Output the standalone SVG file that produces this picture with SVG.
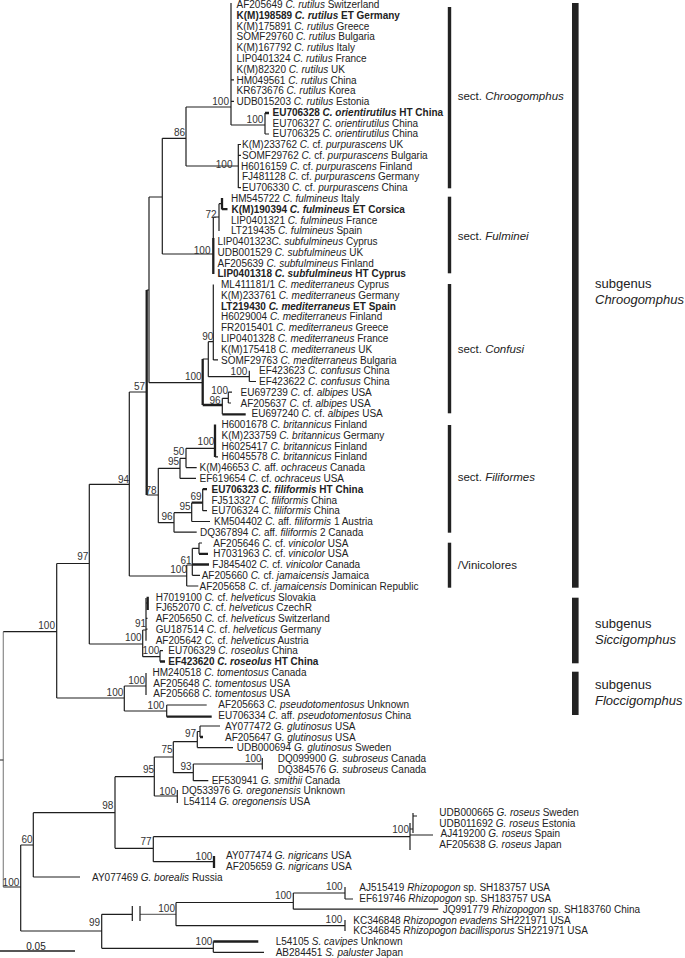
<svg xmlns="http://www.w3.org/2000/svg" width="685" height="958" viewBox="0 0 685 958">
<style>
.t{font-family:"Liberation Sans",Arial,sans-serif;font-size:10px;fill:#222}
.b{font-weight:bold}
.i{font-style:italic}
.bs{font-family:"Liberation Sans",Arial,sans-serif;font-size:10px;fill:#333;text-anchor:end}
.br{stroke:#1e1e1e;stroke-width:1.2;fill:none}
.th{stroke:#1e1e1e;stroke-width:2.3;fill:none}
.gr{stroke:#8a8a8a;stroke-width:1.2;fill:none}
.thin{stroke:#1e1e1e;stroke-width:0.8;fill:none}
.bar{fill:#222}
.sl{font-family:"Liberation Sans",Arial,sans-serif;font-size:11.5px;fill:#222}
.gl{font-family:"Liberation Sans",Arial,sans-serif;font-size:13px;fill:#222}
</style>
<rect width="685" height="958" fill="#fff"/>
<g id="connectors">
<path class="gr" d="M3.3,631.7V887"/>
<path class="br" d="M0,760H3.3
M3.3,631.7H56.7 M56.7,563.5V698 M56.7,563.5H89.3 M56.7,698H124.3
M89.3,484.3V644 M89.3,484.3H129.3 M89.3,644H142.7
M129.3,392V576 M129.3,392H146.7 M129.3,576H186.7
M146.7,290H149 M146.7,495H158.3
M149,197V382.7 M149,197H162.3 M149,382.7H202.7
M162.3,138.3V254 M162.3,138.3H186 M162.3,254H213.3
M186,107V166 M186,107H231 M186,166H238.3
M231,3V125 M231,79.9H234 M231,101.4H234
M231,125H265 M265,113V134 M265,134H269
M238.3,144V188 M238.3,144.5H241 M238.3,155.3H241 M238.3,187.6H241
M213.3,217V238 M213.3,217H219 M219,203.7V231 M219,203.7H222
M202.7,359H208.3 M208.3,341.7V376.7 M208.3,341.7H213.3 M213.3,284.5V360 M213.3,359.9H218
M208.3,376.7H249.3 M249.3,370.7V381.5 M249.3,381.5H256
M222.3,398.3V414.3 M222.3,398.3H228.3 M228.3,392.2V403 M228.3,392.2H232 M228.3,403H231
M158.3,468.3V522.7 M158.3,468.3H180 M180,458.3V478.4 M180,458.3H186
M186,448.3V467.6 M186,448.3H215 M215,456.8H218
M186,467.6H196.7 M180,478.4H196
M158.3,522.7H174 M174,512.7V532.2 M174,512.7H191.7 M191.7,502.7V521.5
M202.7,489V510.7 M202.7,510.7H207 M191.7,521.5H210 M174,532.2H196.7
M186.7,565V586 M186.7,565H192.3 M192.3,548.4V575.3 M192.3,548.4H199 M199,543V553.8 M199,543H202
M192.3,575.3H200 M186.7,586H198.3
M142.7,630V656.7 M142.7,630H146 M146,598V640.7 M146,603H147.7 M146,618.4H147.5 M146,629.2H147.5
M142.7,656.7H160 M160,650.7V661.5 M160,650.7H163
M124.3,686V711 M124.3,686H146 M146,673V695 M124.3,711H166.7 M166.7,705V716.7 M166.7,705H206.7
M3.3,887H20.7 M20.7,845V931 M20.7,845H33.3 M33.3,812.7V877 M33.3,812.7H115 M33.3,877H80
M115,776.7V848.3 M115,776.7H154.3 M115,848.3H153.3
M154.3,757V796 M154.3,757H173.3 M173.3,741.7V772.7 M173.3,741.7H197.3
M197.3,731.5V747.6 M197.3,731.5H200 M200,726V737 M200,726H220 M197.3,747.6H233
M173.3,772.7H193.3 M193.3,764V780.7 M193.3,764H262.3 M262.3,758V769.5 M193.3,780.7H208.3
M154.3,796H177.3 M177.3,790V803
M153.3,836.7V861.7 M153.3,836.7H410 M410,823V850 M413,813V833 M410,829H413 M413,816H417 M410,835H433
M153.3,861.7H214
M20.7,931H101.7 M101.7,914.3V948.3 M101.7,914.3H132.3 M132.3,906V921 M140,906V921
M176,902.5V925.7 M176,902.5H293.3 M293.3,893V909.2 M293.3,893H345 M345,887V899 M345,899H353
M293.3,909.2H438.3 M176,925.7H345 M345,920V931
M101.7,948.3H213.3 M213.3,941.5V952.3 M213.3,952.3H264"/>
<path class="thin" d="M140,914.3H176"/>
<path class="th" d="M146.7,290V495 M265,113H269 M213.3,238V274 M222,198V209.5 M222,209.1H227.5
M202.7,359V405 M202.7,405H222.3 M222.3,414.3H245.7 M215,424.5V457
M191.7,502.7H202.7 M202.7,489.2H207 M199,553.8H208 M192.3,564.5H209
M147.7,596.8V610 M160,661.5H165 M166.7,716.7H211.7 M200,737H203 M214,856V868 M213.3,941.5H258.3"/>
<path class="br" d="M0,951H75" style="stroke-width:1.6"/>
</g>
<g id="scale"><text class="t" x="36" y="949.6" text-anchor="middle">0.05</text></g>
<g id="support">
<text class="bs" x="229" y="105.3">100</text>
<text class="bs" x="263.3" y="122.9">100</text>
<text class="bs" x="185" y="136.3">86</text>
<text class="bs" x="232.5" y="167.6">100</text>
<text class="bs" x="216.7" y="217.6">72</text>
<text class="bs" x="210.5" y="253.6">100</text>
<text class="bs" x="213.3" y="340.3">90</text>
<text class="bs" x="201.7" y="379.8">100</text>
<text class="bs" x="247.3" y="374.6">100</text>
<text class="bs" x="228" y="393.6">100</text>
<text class="bs" x="220.5" y="404.3">96</text>
<text class="bs" x="145" y="389.6">57</text>
<text class="bs" x="184.3" y="454.6">50</text>
<text class="bs" x="214.3" y="445.3">100</text>
<text class="bs" x="179" y="465.3">95</text>
<text class="bs" x="129" y="482.6">94</text>
<text class="bs" x="156.7" y="493.6">78</text>
<text class="bs" x="201.7" y="500.3">69</text>
<text class="bs" x="190.7" y="510.3">95</text>
<text class="bs" x="172.7" y="520.3">96</text>
<text class="bs" x="191.7" y="563.6">61</text>
<text class="bs" x="187" y="572.9">100</text>
<text class="bs" x="88.3" y="560.3">97</text>
<text class="bs" x="146" y="626.9">91</text>
<text class="bs" x="141.7" y="641.3">100</text>
<text class="bs" x="159.3" y="654.3">100</text>
<text class="bs" x="55" y="629.3">100</text>
<text class="bs" x="145" y="684.3">100</text>
<text class="bs" x="123.3" y="695.9">100</text>
<text class="bs" x="164.3" y="709.3">100</text>
<text class="bs" x="196" y="736.9">97</text>
<text class="bs" x="172.7" y="752.9">75</text>
<text class="bs" x="261.7" y="761.9">100</text>
<text class="bs" x="191.7" y="769.6">93</text>
<text class="bs" x="154" y="772.9">95</text>
<text class="bs" x="176" y="794.6">100</text>
<text class="bs" x="113.3" y="809.3">98</text>
<text class="bs" x="409" y="832.9">100</text>
<text class="bs" x="32.7" y="842.6">60</text>
<text class="bs" x="151.7" y="844.6">77</text>
<text class="bs" x="212.3" y="859.6">100</text>
<text class="bs" x="19.3" y="886.3">100</text>
<text class="bs" x="342.7" y="890.3">100</text>
<text class="bs" x="291.7" y="898.9">100</text>
<text class="bs" x="175" y="911.9">100</text>
<text class="bs" x="342.3" y="922.9">100</text>
<text class="bs" x="100" y="926.3">99</text>
<text class="bs" x="212.3" y="945.3">100</text>
</g>
<g id="leaf-1"><text class="t" x="236.5" y="8.1">AF205649 <tspan class="i">C. rutilus</tspan> Switzerland</text></g>
<g id="leaf-2"><text class="t b" x="236.5" y="18.9">K(M)198589 <tspan class="i">C. rutilus</tspan> ET Germany</text></g>
<g id="leaf-3"><text class="t" x="236.5" y="29.6">K(M)175891 <tspan class="i">C. rutilus</tspan> Greece</text></g>
<g id="leaf-4"><text class="t" x="236.5" y="40.4">SOMF29760 <tspan class="i">C. rutilus</tspan> Bulgaria</text></g>
<g id="leaf-5"><text class="t" x="236.5" y="51.2">K(M)167792 <tspan class="i">C. rutilus</tspan> Italy</text></g>
<g id="leaf-6"><text class="t" x="236.5" y="62">LIP0401324 <tspan class="i">C. rutilus</tspan> France</text></g>
<g id="leaf-7"><text class="t" x="236.5" y="72.7">K(M)82320 <tspan class="i">C. rutilus</tspan> UK</text></g>
<g id="leaf-8"><text class="t" x="236.5" y="83.5">HM049561 <tspan class="i">C. rutilus</tspan> China</text></g>
<g id="leaf-9"><text class="t" x="236.5" y="94.3">KR673676 <tspan class="i">C. rutilus</tspan> Korea</text></g>
<g id="leaf-10"><text class="t" x="236.5" y="105">UDB015203 <tspan class="i">C. rutilus</tspan> Estonia</text></g>
<g id="leaf-11"><text class="t b" x="272.5" y="115.8">EU706328 <tspan class="i">C. orientirutilus</tspan> HT China</text></g>
<g id="leaf-12"><text class="t" x="272.5" y="126.6">EU706327 <tspan class="i">C. orientirutilus</tspan> China</text></g>
<g id="leaf-13"><text class="t" x="272.5" y="137.3">EU706325 <tspan class="i">C. orientirutilus</tspan> China</text></g>
<g id="leaf-14"><text class="t" x="242" y="148.1">K(M)233762 <tspan class="i">C.</tspan> cf. <tspan class="i">purpurascens</tspan> UK</text></g>
<g id="leaf-15"><text class="t" x="242" y="158.9">SOMF29762 <tspan class="i">C.</tspan> cf. <tspan class="i">purpurascens</tspan> Bulgaria</text></g>
<g id="leaf-16"><text class="t" x="241" y="169.7">H6016159 <tspan class="i">C.</tspan> cf. <tspan class="i">purpurascens</tspan> Finland</text></g>
<g id="leaf-17"><text class="t" x="242" y="180.4">FJ481128 <tspan class="i">C.</tspan> cf. <tspan class="i">purpurascens</tspan> Germany</text></g>
<g id="leaf-18"><text class="t" x="242" y="191.2">EU706330 <tspan class="i">C.</tspan> cf. <tspan class="i">purpurascens</tspan> China</text></g>
<g id="leaf-19"><text class="t" x="231" y="202">HM545722 <tspan class="i">C. fulmineus</tspan> Italy</text></g>
<g id="leaf-20"><text class="t b" x="231.5" y="212.7">K(M)190394 <tspan class="i">C. fulmineus</tspan> ET Corsica</text></g>
<g id="leaf-21"><text class="t" x="231" y="223.5">LIP0401321 <tspan class="i">C. fulmineus</tspan> France</text></g>
<g id="leaf-22"><text class="t" x="231" y="234.3">LT219435 <tspan class="i">C. fulmineus</tspan> Spain</text></g>
<g id="leaf-23"><text class="t" x="217.5" y="245">LIP0401323<tspan class="i">C. subfulmineus</tspan> Cyprus</text></g>
<g id="leaf-24"><text class="t" x="217.5" y="255.8">UDB001529 <tspan class="i">C. subfulmineus</tspan> UK</text></g>
<g id="leaf-25"><text class="t" x="217.5" y="266.6">AF205639 <tspan class="i">C. subfulmineus</tspan> Finland</text></g>
<g id="leaf-26"><text class="t b" x="217.5" y="277.4">LIP0401318 <tspan class="i">C. subfulmineus</tspan> HT Cyprus</text></g>
<g id="leaf-27"><text class="t" x="221" y="288.1">ML411181/1 <tspan class="i">C. mediterraneus</tspan> Cyprus</text></g>
<g id="leaf-28"><text class="t" x="221" y="298.9">K(M)233761 <tspan class="i">C. mediterraneus</tspan> Germany</text></g>
<g id="leaf-29"><text class="t b" x="221" y="309.7">LT219430 <tspan class="i">C. mediterraneus</tspan> ET Spain</text></g>
<g id="leaf-30"><text class="t" x="221" y="320.4">H6029004 <tspan class="i">C. mediterraneus</tspan> Finland</text></g>
<g id="leaf-31"><text class="t" x="221" y="331.2">FR2015401 <tspan class="i">C. mediterraneus</tspan> Greece</text></g>
<g id="leaf-32"><text class="t" x="221" y="342">LIP0401328 <tspan class="i">C. mediterraneus</tspan> France</text></g>
<g id="leaf-33"><text class="t" x="221" y="352.7">K(M)175418 <tspan class="i">C. mediterraneus</tspan> UK</text></g>
<g id="leaf-34"><text class="t" x="221" y="363.5">SOMF29763 <tspan class="i">C. mediterraneus</tspan> Bulgaria</text></g>
<g id="leaf-35"><text class="t" x="259" y="374.3">EF423623 <tspan class="i">C. confusus</tspan> China</text></g>
<g id="leaf-36"><text class="t" x="259" y="385.1">EF423622 <tspan class="i">C. confusus</tspan> China</text></g>
<g id="leaf-37"><text class="t" x="240.5" y="395.8">EU697239 <tspan class="i">C.</tspan> cf. <tspan class="i">albipes</tspan> USA</text></g>
<g id="leaf-38"><text class="t" x="240.5" y="406.6">AF205637 <tspan class="i">C.</tspan> cf. <tspan class="i">albipes</tspan> USA</text></g>
<g id="leaf-39"><text class="t" x="251.5" y="417.4">EU697240 <tspan class="i">C.</tspan> cf. <tspan class="i">albipes</tspan> USA</text></g>
<g id="leaf-40"><text class="t" x="221.5" y="428.1">H6001678 <tspan class="i">C. britannicus</tspan> Finland</text></g>
<g id="leaf-41"><text class="t" x="221.5" y="438.9">K(M)233759 <tspan class="i">C. britannicus</tspan> Germany</text></g>
<g id="leaf-42"><text class="t" x="221.5" y="449.7">H6025417 <tspan class="i">C. britannicus</tspan> Finland</text></g>
<g id="leaf-43"><text class="t" x="221.5" y="460.4">H6045578 <tspan class="i">C. britannicus</tspan> Finland</text></g>
<g id="leaf-44"><text class="t" x="199.5" y="471.2">K(M)46653 <tspan class="i">C.</tspan> aff. <tspan class="i">ochraceus</tspan> Canada</text></g>
<g id="leaf-45"><text class="t" x="199.5" y="482">EF619654 <tspan class="i">C.</tspan> cf. <tspan class="i">ochraceus</tspan> USA</text></g>
<g id="leaf-46"><text class="t b" x="211.5" y="492.8">EU706323 <tspan class="i">C. filiformis</tspan> HT China</text></g>
<g id="leaf-47"><text class="t" x="211.5" y="503.5">FJ513327 <tspan class="i">C. filiformis</tspan> China</text></g>
<g id="leaf-48"><text class="t" x="211.5" y="514.3">EU706324 <tspan class="i">C. filiformis</tspan> China</text></g>
<g id="leaf-49"><text class="t" x="214" y="525.1">KM504402 <tspan class="i">C.</tspan> aff. <tspan class="i">filiformis</tspan> 1 Austria</text></g>
<g id="leaf-50"><text class="t" x="200" y="535.8">DQ367894 <tspan class="i">C.</tspan> aff. <tspan class="i">filiformis</tspan> 2 Canada</text></g>
<g id="leaf-51"><text class="t" x="213.3" y="546.6">AF205646 <tspan class="i">C.</tspan> cf. <tspan class="i">vinicolor</tspan> USA</text></g>
<g id="leaf-52"><text class="t" x="213.3" y="557.4">H7031963 <tspan class="i">C.</tspan> cf. <tspan class="i">vinicolor</tspan> USA</text></g>
<g id="leaf-53"><text class="t" x="212.3" y="568.1">FJ845402 <tspan class="i">C.</tspan> cf. <tspan class="i">vinicolor</tspan> Canada</text></g>
<g id="leaf-54"><text class="t" x="201.7" y="578.9">AF205660 <tspan class="i">C.</tspan> cf. <tspan class="i">jamaicensis</tspan> Jamaica</text></g>
<g id="leaf-55"><text class="t" x="199.5" y="589.7">AF205658 <tspan class="i">C.</tspan> cf. <tspan class="i">jamaicensis</tspan> Dominican Republic</text></g>
<g id="leaf-56"><text class="t" x="155.7" y="600.5">H7019100 <tspan class="i">C.</tspan> cf. <tspan class="i">helveticus</tspan> Slovakia</text></g>
<g id="leaf-57"><text class="t" x="155.7" y="611.2">FJ652070 <tspan class="i">C.</tspan> cf. <tspan class="i">helveticus</tspan> CzechR</text></g>
<g id="leaf-58"><text class="t" x="155.7" y="622">AF205650 <tspan class="i">C.</tspan> cf. <tspan class="i">helveticus</tspan> Switzerland</text></g>
<g id="leaf-59"><text class="t" x="155.7" y="632.8">GU187514 <tspan class="i">C.</tspan> cf. <tspan class="i">helveticus</tspan> Germany</text></g>
<g id="leaf-60"><text class="t" x="155.7" y="643.5">AF205642 <tspan class="i">C.</tspan> cf. <tspan class="i">helveticus</tspan> Austria</text></g>
<g id="leaf-61"><text class="t" x="168.3" y="654.3">EU706329 <tspan class="i">C. roseolus</tspan> China</text></g>
<g id="leaf-62"><text class="t b" x="168.3" y="665.1">EF423620 <tspan class="i">C. roseolus</tspan> HT China</text></g>
<g id="leaf-63"><text class="t" x="152.5" y="675.8">HM240518 <tspan class="i">C. tomentosus</tspan> Canada</text></g>
<g id="leaf-64"><text class="t" x="153.3" y="686.6">AF205648 <tspan class="i">C. tomentosus</tspan> USA</text></g>
<g id="leaf-65"><text class="t" x="153.3" y="697.4">AF205668 <tspan class="i">C. tomentosus</tspan> USA</text></g>
<g id="leaf-66"><text class="t" x="218.3" y="708.2">AF205663 <tspan class="i">C. pseudotomentosus</tspan> Unknown</text></g>
<g id="leaf-67"><text class="t" x="218.3" y="718.9">EU706334 <tspan class="i">C.</tspan> aff. <tspan class="i">pseudotomentosus</tspan> China</text></g>
<g id="leaf-68"><text class="t" x="225" y="729.7">AY077472 <tspan class="i">G. glutinosus</tspan> USA</text></g>
<g id="leaf-69"><text class="t" x="225" y="740.5">AF205647 <tspan class="i">G. glutinosus</tspan> USA</text></g>
<g id="leaf-70"><text class="t" x="236.7" y="751.2">UDB000694 <tspan class="i">G. glutinosus</tspan> Sweden</text></g>
<g id="leaf-71"><text class="t" x="277.7" y="762">DQ099900 <tspan class="i">G. subroseus</tspan> Canada</text></g>
<g id="leaf-72"><text class="t" x="277.7" y="772.8">DQ384576 <tspan class="i">G. subroseus</tspan> Canada</text></g>
<g id="leaf-73"><text class="t" x="211.7" y="783.5">EF530941 <tspan class="i">G. smithii</tspan> Canada</text></g>
<g id="leaf-74"><text class="t" x="181.7" y="794.3">DQ533976 <tspan class="i">G. oregonensis</tspan> Unknown</text></g>
<g id="leaf-75"><text class="t" x="183.5" y="805.1">L54114 <tspan class="i">G. oregonensis</tspan> USA</text></g>
<g id="leaf-76"><text class="t" x="439.3" y="815.9">UDB000665 <tspan class="i">G. roseus</tspan> Sweden</text></g>
<g id="leaf-77"><text class="t" x="439.3" y="826.6">UDB011692 <tspan class="i">G. roseus</tspan> Estonia</text></g>
<g id="leaf-78"><text class="t" x="440.5" y="837.4">AJ419200 <tspan class="i">G. roseus</tspan> Spain</text></g>
<g id="leaf-79"><text class="t" x="439.3" y="848.2">AF205638 <tspan class="i">G. roseus</tspan> Japan</text></g>
<g id="leaf-80"><text class="t" x="226" y="858.9">AY077474 <tspan class="i">G. nigricans</tspan> USA</text></g>
<g id="leaf-81"><text class="t" x="226" y="869.7">AF205659 <tspan class="i">G. nigricans</tspan> USA</text></g>
<g id="leaf-82"><text class="t" x="92" y="880.5">AY077469 <tspan class="i">G. borealis</tspan> Russia</text></g>
<g id="leaf-83"><text class="t" x="359.3" y="891.2">AJ515419 <tspan class="i">Rhizopogon</tspan> sp. SH183757 USA</text></g>
<g id="leaf-84"><text class="t" x="359.3" y="902">EF619746 <tspan class="i">Rhizopogon</tspan> sp. SH183757 USA</text></g>
<g id="leaf-85"><text class="t" x="442.7" y="912.8">JQ991779 <tspan class="i">Rhizopogon</tspan> sp. SH183760 China</text></g>
<g id="leaf-86"><text class="t" x="353.3" y="923.6">KC346848 <tspan class="i">Rhizopogon evadens</tspan> SH221971 USA</text></g>
<g id="leaf-87"><text class="t" x="353.3" y="934.3">KC346845 <tspan class="i">Rhizopogon bacillisporus</tspan> SH221971 USA</text></g>
<g id="leaf-88"><text class="t" x="275.7" y="945.1">L54105 <tspan class="i">S. cavipes</tspan> Unknown</text></g>
<g id="leaf-89"><text class="t" x="275.7" y="955.9">AB284451 <tspan class="i">S. paluster</tspan> Japan</text></g>
<g id="sect-chroogomphus"><rect class="bar" x="447.8" y="7" width="3.4" height="181.3"/><text class="sl" x="457.7" y="100.1">sect. <tspan class="i">Chroogomphus</tspan></text></g>
<g id="sect-fulminei"><rect class="bar" x="447.8" y="196.7" width="3.4" height="76.6"/><text class="sl" x="457.7" y="240.1">sect. <tspan class="i">Fulminei</tspan></text></g>
<g id="sect-confusi"><rect class="bar" x="447.8" y="284" width="3.4" height="129.3"/><text class="sl" x="457.7" y="353.4">sect. <tspan class="i">Confusi</tspan></text></g>
<g id="sect-filiformes"><rect class="bar" x="447.8" y="425" width="3.4" height="107.7"/><text class="sl" x="457.7" y="481.4">sect. <tspan class="i">Filiformes</tspan></text></g>
<g id="vinicolores"><rect class="bar" x="447.8" y="542.7" width="3.4" height="45"/><text class="sl" x="457.7" y="569.1">/Vinicolores</text></g>
<g id="subgenus-chroogomphus"><rect class="bar" x="572" y="3" width="6.6" height="584.7"/><text class="gl" x="595" y="288">subgenus</text><text class="gl i" x="595" y="303.7">Chroogomphus</text></g>
<g id="subgenus-siccigomphus"><rect class="bar" x="572" y="597.7" width="6.6" height="65.6"/><text class="gl" x="595" y="628.4">subgenus</text><text class="gl i" x="595" y="643.8">Siccigomphus</text></g>
<g id="subgenus-floccigomphus"><rect class="bar" x="572" y="671.7" width="6.6" height="43.3"/><text class="gl" x="595" y="689.4">subgenus</text><text class="gl i" x="595" y="704.6">Floccigomphus</text></g>
</svg>
